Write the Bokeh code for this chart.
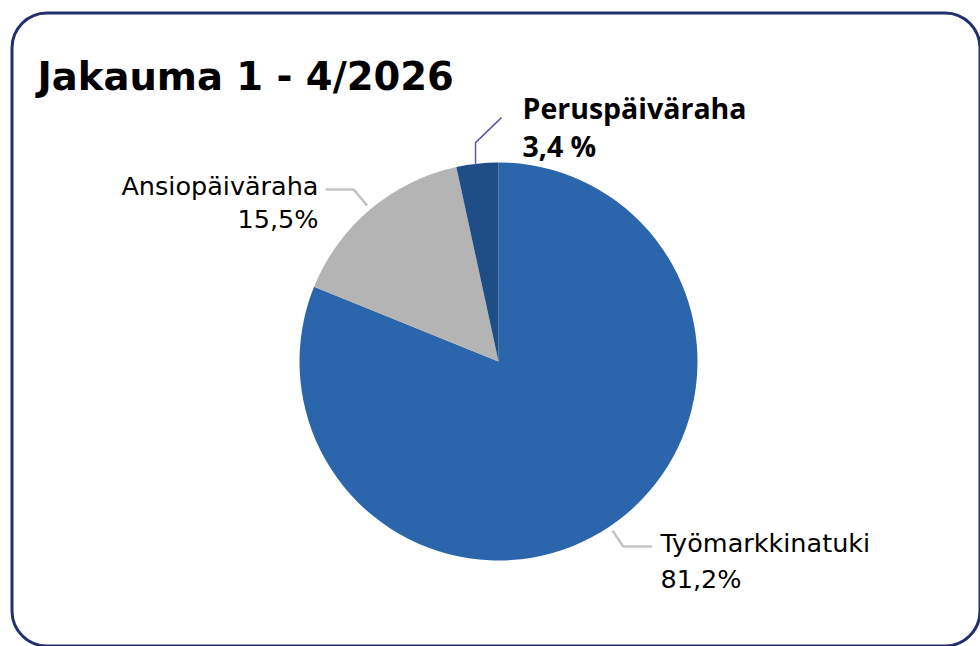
import math
from bokeh.plotting import figure
from bokeh.models import Range1d, BoxAnnotation
from bokeh.core.properties import value
from bokeh.embed import file_html
from bokeh.resources import INLINE

# ---- data ----
categories = ["Työmarkkinatuki", "Ansiopäiväraha", "Peruspäiväraha"]
shares = [81.2, 15.5, 3.4]
share_labels = ["81,2%", "15,5%", "3,4 %"]
colors = ["#2b66ac", "#b4b4b4", "#1f4d86"]
title_text = "Jakauma 1 - 4/2026"

W, H = 980, 646
CX, CY, R = 498, 361, 199  # pixel space (y from top)


def Y(py):
    return H - py


p = figure(width=W, height=H, output_backend="svg", toolbar_location=None,
           x_range=Range1d(0, W), y_range=Range1d(0, H), min_border=0)
p.axis.visible = False
p.grid.visible = False
p.outline_line_color = None
p.background_fill_color = "white"
p.border_fill_color = "white"

# frame
p.add_layout(BoxAnnotation(left=11.5, right=979.5, top=Y(12.5), bottom=Y(645.5),
                           fill_alpha=0, line_color="#22306e", line_alpha=1.0,
                           line_width=3, border_radius=35))

# pie wedges (clockwise from 12 o'clock)
total = sum(shares)
starts, ends, mids = [], [], []
cum = 0.0
for s in shares:
    f0 = cum / total
    cum += s
    f1 = cum / total
    starts.append(math.pi / 2 - 2 * math.pi * f0)
    ends.append(math.pi / 2 - 2 * math.pi * f1)
    mids.append((f0 + f1) / 2 * 2 * math.pi)  # clockwise from top

p.wedge(x=[CX] * 3, y=[Y(CY)] * 3, radius=R, start_angle=starts, end_angle=ends,
        direction="clock", fill_color=colors, line_color=None)


def at(theta, rr):
    return CX + rr * math.sin(theta), CY - rr * math.cos(theta)


# leader lines
# Työmarkkinatuki
x0, y0 = at(mids[0], 204)
x1, y1 = at(mids[0], 223)
p.line([x0, x1, x1 + 29], [Y(y0), Y(y1), Y(y1)], line_color="#c3c3c3", line_width=2.5)
# Ansiopäiväraha
x0, y0 = at(mids[1], 204)
x1, y1 = at(mids[1], 225)
p.line([x0, x1, x1 - 28], [Y(y0), Y(y1), Y(y1)], line_color="#c3c3c3", line_width=2.5)
# Peruspäiväraha
x0, y0 = at(mids[2], 197)
p.line([x0 - 2, x0 - 2, x0 + 24], [Y(y0), Y(y0 - 23), Y(y0 - 48)], line_color="#6652a6", line_width=1.5)

# labels
lab_font = value("DejaVu Sans")
p.text(x=[660, 660], y=[Y(542), Y(578)], text=[categories[0], share_labels[0]],
       text_font=lab_font, text_font_size="25.5px", text_color="#000000",
       text_align="left", text_baseline="alphabetic")
p.text(x=[318, 318], y=[Y(185), Y(218)], text=[categories[1], share_labels[1]],
       text_font=lab_font, text_font_size="25.5px", text_color="#000000",
       text_align="right", text_baseline="alphabetic")
p.text(x=[522, 522], y=[Y(107), Y(145)], text=[categories[2], share_labels[2]],
       text_font=value("Open Sans"), text_font_style="bold", text_font_size="28.5px",
       text_color="#000000", text_align="left", text_baseline="alphabetic")

# title
p.text(x=[37], y=[Y(76)], text=[title_text], text_font=value("DejaVu Sans"),
       text_font_style="bold", text_font_size="38.5px", text_color="#000000",
       text_align="left", text_baseline="alphabetic")

open("out.html", "w").write(file_html(p, INLINE))
